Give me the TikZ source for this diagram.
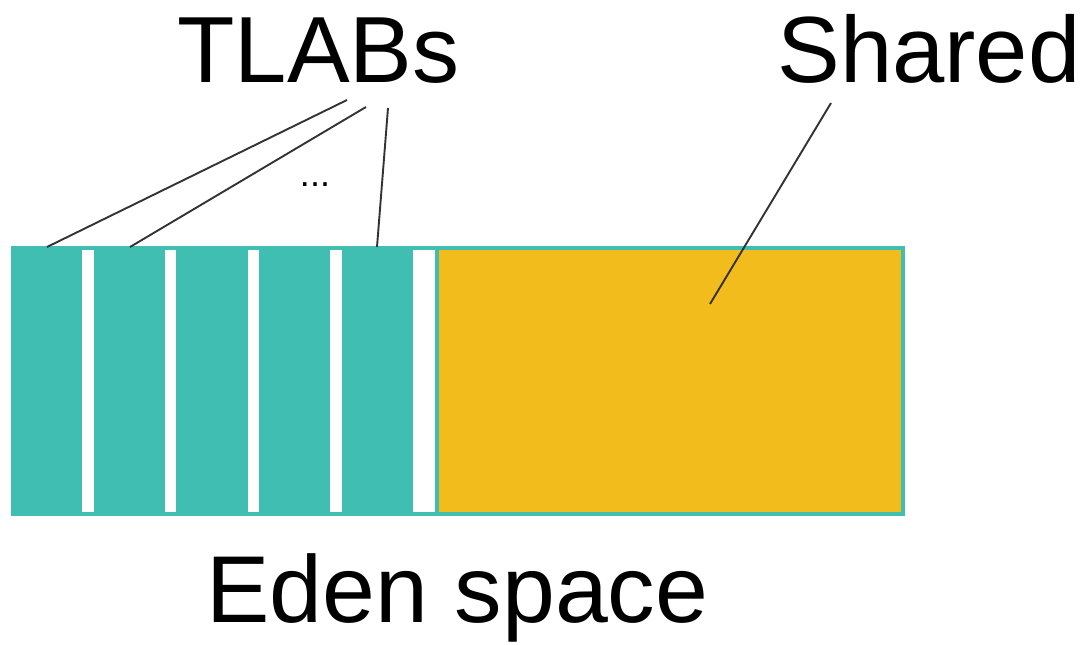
\documentclass[tikz,border=0pt]{standalone}
\usepackage{fontspec}
\setmainfont{Liberation Sans}
\definecolor{tealc}{HTML}{3FBEB1}
\definecolor{yellowc}{HTML}{F1BC1C}
\definecolor{linec}{HTML}{333333}
\begin{document}
\begin{tikzpicture}[x=1pt,y=-1pt,
  big/.style={font=\fontsize{94}{100}\selectfont, inner sep=0pt, anchor=base},
  gap/.style={fill=white, draw=none},
  leader/.style={draw=linec, line width=1.9pt}]
\useasboundingbox (0,0) rectangle (1088,645);
% eden block
\fill[tealc] (11,246) rectangle (905,516);
\fill[yellowc] (439,250) rectangle (901,512);
\foreach \a/\b in {82/94,165/176,248/259,330/342,413/435}
  \fill[white] (\a,250) rectangle (\b,512);
% labels
\node[big] (tlabs) at (318.5,82) {TLABs};
\node[big] (shared) at (929,82) {Shared};
\node[big, font=\fontsize{95}{100}\selectfont] (eden) at (457.5,622) {Eden space};
\node[font=\fontsize{36}{40}\selectfont, inner sep=0pt, anchor=base] (dots) at (315,186) {...};
% leader endpoints
\coordinate (t1s) at (347,100);
\coordinate (t1e) at (47,247);
\coordinate (t2s) at (366,107);
\coordinate (t2e) at (130,247);
\coordinate (t3s) at (388,108);
\coordinate (t3e) at (377,247);
\coordinate (s1s) at (831,103);
\coordinate (s1e) at (710,304);
\draw[leader] (t1s) -- (t1e);
\draw[leader] (t2s) -- (t2e);
\draw[leader] (t3s) -- (t3e);
\draw[leader] (s1s) -- (s1e);
\end{tikzpicture}
\end{document}
